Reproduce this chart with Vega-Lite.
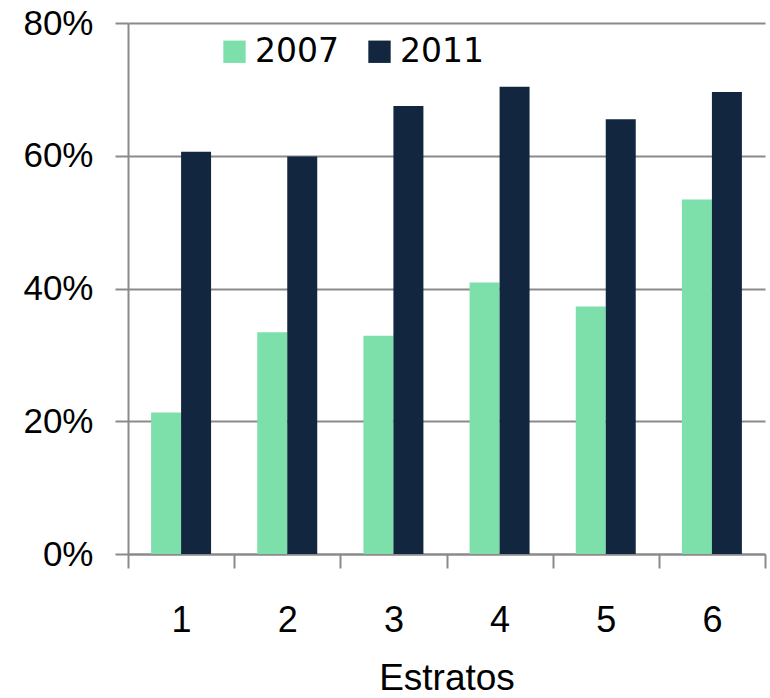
{
  "$schema": "https://vega.github.io/schema/vega-lite/v6.json",
  "autosize": {"type": "none"},
  "width": 637,
  "height": 531,
  "padding": {"left": 128, "top": 23, "right": 5, "bottom": 144},
  "background": "white",
  "data": {
    "values": [
      {"estrato": "1", "year": "2007", "value": 0.213},
      {"estrato": "1", "year": "2011", "value": 0.606},
      {"estrato": "2", "year": "2007", "value": 0.334},
      {"estrato": "2", "year": "2011", "value": 0.599},
      {"estrato": "3", "year": "2007", "value": 0.329},
      {"estrato": "3", "year": "2011", "value": 0.675},
      {"estrato": "4", "year": "2007", "value": 0.409},
      {"estrato": "4", "year": "2011", "value": 0.704},
      {"estrato": "5", "year": "2007", "value": 0.373},
      {"estrato": "5", "year": "2011", "value": 0.655},
      {"estrato": "6", "year": "2007", "value": 0.534},
      {"estrato": "6", "year": "2011", "value": 0.696}
    ]
  },
  "mark": {"type": "bar", "strokeWidth": 0},
  "encoding": {
    "x": {
      "field": "estrato",
      "type": "nominal",
      "scale": {"paddingInner": 0, "paddingOuter": 0},
      "axis": {
        "title": "Estratos",
        "labelAngle": 0,
        "tickBand": "extent",
        "tickSize": 14,
        "tickWidth": 2,
        "tickColor": "#8a8a8a",
        "domainColor": "#8a8a8a",
        "domainWidth": 2,
        "labelFont": "Liberation Sans",
        "labelFontSize": 36,
        "labelColor": "#000000",
        "labelPadding": 35,
        "titleFont": "Liberation Sans",
        "titleFontSize": 37,
        "titleFontWeight": "normal",
        "titleColor": "#000000",
        "titlePadding": 22
      }
    },
    "xOffset": {
      "field": "year",
      "type": "nominal",
      "scale": {"paddingInner": 0, "paddingOuter": 0.77}
    },
    "y": {
      "field": "value",
      "type": "quantitative",
      "scale": {"domain": [0, 0.8], "nice": false},
      "axis": {
        "title": null,
        "values": [0, 0.2, 0.4, 0.6, 0.8],
        "format": ".0%",
        "grid": true,
        "gridColor": "#8a8a8a",
        "gridWidth": 2,
        "tickSize": 13,
        "tickWidth": 2,
        "tickColor": "#8a8a8a",
        "domainColor": "#8a8a8a",
        "domainWidth": 2,
        "labelFont": "Liberation Sans",
        "labelFontSize": 35,
        "labelColor": "#000000",
        "labelPadding": 22
      }
    },
    "color": {
      "field": "year",
      "type": "nominal",
      "scale": {"domain": ["2007", "2011"], "range": ["#7DE0AB", "#13263F"]},
      "legend": {
        "title": null,
        "orient": "none",
        "legendX": 90,
        "legendY": 12,
        "direction": "horizontal",
        "symbolType": "square",
        "symbolSize": 500,
        "symbolStrokeWidth": 0,
        "labelFont": "DejaVu Sans",
        "labelFontSize": 33,
        "labelColor": "#000000",
        "labelOffset": 4,
        "columnPadding": 24,
        "padding": 0
      }
    }
  },
  "config": {"view": {"stroke": null}}
}
